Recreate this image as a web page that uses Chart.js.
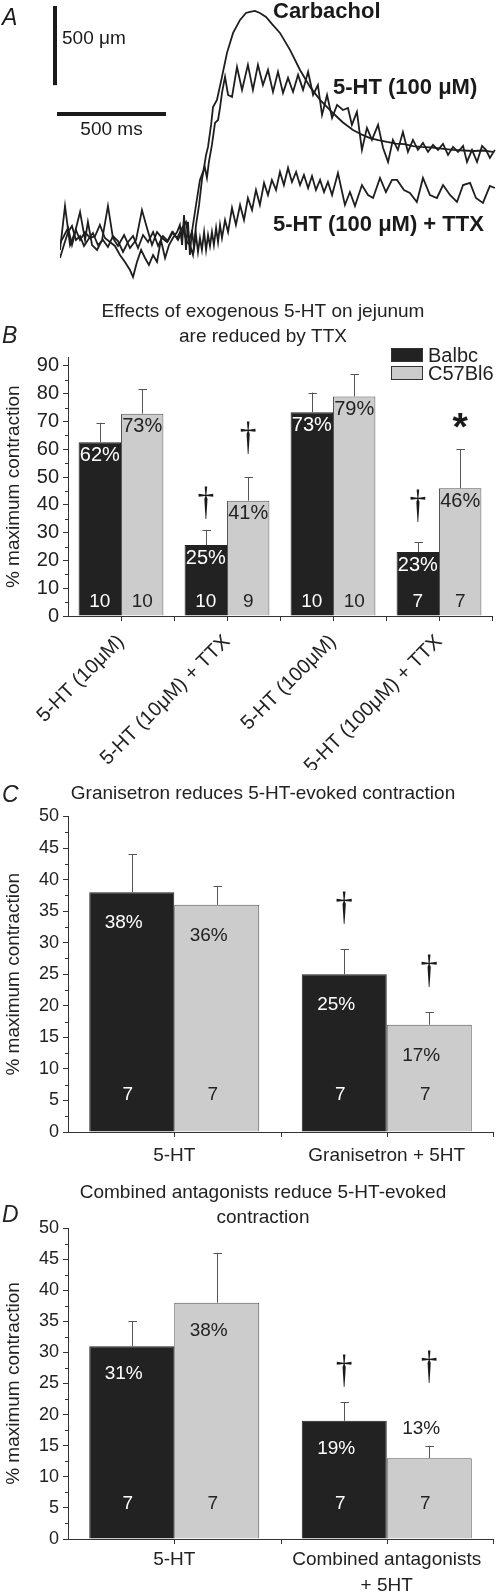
<!DOCTYPE html>
<html><head><meta charset="utf-8">
<script src="https://cdn.jsdelivr.net/npm/chart.js@4.4.1/dist/chart.umd.min.js"></script>
<style>
html,body{margin:0;padding:0;background:#fff;}
body{width:497px;height:1596px;position:relative;overflow:hidden;}
canvas{position:absolute;left:0;}
</style></head><body>
<canvas id="cA" width="497" height="285" style="top:0px"></canvas>
<canvas id="cB" width="497" height="480" style="top:290px"></canvas>
<canvas id="cC" width="497" height="400" style="top:770px"></canvas>
<canvas id="cD" width="497" height="426" style="top:1170px"></canvas>
<script>
// ---------------- Panel A: traces (time in ms, displacement in µm) ----------------
const carbTime = [0,18,37,55,73,92,110,128,151,174,197,220,243,266,289,312,335,358,381,404,427,450,472,495,518,541,564,583,596,610,624,638,651,661,670,679,693,702,720,743,766,794,826,853,872,894,917,945,972,1009,1055,1101,1147,1193,1252,1298,1344,1385,1422,1460,1500,1540,1580,1620,1651,1700,1750,1803,1850,1900,1940,1986];
const carbVal  = [139,221,303,341,253,278,215,253,297,221,253,209,278,246,177,240,278,202,284,240,303,215,278,246,303,253,316,240,221,158,348,474,632,714,790,841,980,1093,1138,1283,1435,1561,1643,1687,1694,1700,1687,1662,1618,1561,1454,1327,1220,1138,1055,995,948,918,897,884,872,862,858,846,841,838,830,822,818,815,818,809];
const htTime = [0,23,46,69,92,115,128,147,170,193,220,243,266,294,321,349,376,399,422,445,468,491,514,537,560,578,592,605,624,642,656,665,674,683,697,711,725,734,743,757,771,789,812,835,862,885,908,931,954,977,1000,1023,1046,1069,1092,1115,1138,1161,1183,1202,1225,1248,1271,1298,1321,1339,1362,1385,1408,1431,1459,1482,1505,1527,1550,1573,1596,1619,1642,1665,1688,1711,1734,1757,1780,1803,1826,1849,1867,1890,1913,1936,1954,1972,1995];
const htVal  = [190,468,221,303,430,253,367,221,190,253,468,265,215,284,202,253,442,329,221,303,265,240,303,265,329,367,253,303,474,632,683,708,645,746,853,992,1011,1087,1182,1283,1169,1157,1346,1201,1359,1201,1359,1232,1327,1188,1315,1182,1277,1188,1296,1201,1315,1169,1232,1043,1169,1024,1106,1074,1087,980,1062,822,961,885,980,834,746,885,822,935,809,885,822,866,809,853,822,860,790,841,809,847,746,822,746,847,822,771,822];
const ttxTime = [0,18,37,55,73,92,115,138,161,183,206,229,252,275,298,321,335,353,372,390,408,427,445,463,482,500,518,537,550,560,569,578,587,596,605,615,624,633,642,651,661,670,679,688,697,706,716,725,734,743,757,771,789,807,826,844,862,881,899,917,936,954,972,991,1009,1027,1046,1064,1083,1101,1119,1138,1156,1174,1193,1211,1229,1248,1275,1307,1330,1353,1385,1413,1436,1468,1495,1523,1546,1578,1605,1637,1665,1697,1729,1757,1789,1821,1849,1881,1908,1940,1972,1995];
const ttxVal  = [234,278,329,221,316,253,303,265,278,348,265,240,215,158,114,63,19,114,190,139,95,158,114,253,139,221,265,303,348,221,411,190,367,158,316,202,284,177,265,190,303,190,284,215,303,221,329,240,348,265,379,303,455,348,474,379,518,442,569,474,613,537,632,569,683,600,708,619,683,600,664,581,657,569,632,556,619,537,676,474,556,468,600,537,518,645,556,632,632,569,550,493,645,537,518,600,537,493,600,613,518,487,594,581];
const traceNames = ['Carbachol','5-HT (100 μM)','5-HT (100 μM) + TTX'];
const scaleBarUm = 500, scaleBarMs = 500;

// ---------------- Panels B-D: bar data ----------------
const seriesNames = ['Balbc','C57Bl6'];
const catsB = ['5-HT (10μM)','5-HT (10μM) + TTX','5-HT (100μM)','5-HT (100μM) + TTX'];
const balbcB = [62.5,25.5,73.3,23];
const balbcSemB = [7,5.5,7.1,3.6];
const c57B = [72.8,41.5,79,46];
const c57SemB = [8.8,8.5,8,14];
const balbcPctB = ['62%','25%','73%','23%'];
const c57PctB = ['73%','41%','79%','46%'];
const balbcNB = [10,10,10,7];
const c57NB = [10,9,10,7];
const marksB = [['',''],['†','†'],['',''],['†','*']];

const catsC = ['5-HT','Granisetron + 5HT'];
const balbcC = [38,25];
const balbcSemC = [6,4];
const c57C = [36,17];
const c57SemC = [3,2];
const balbcPctC = ['38%','25%'];
const c57PctC = ['36%','17%'];
const balbcNC = [7,7];
const c57NC = [7,7];
const marksC = [['',''],['†','†']];

const catsD = ['5-HT',['Combined antagonists','+ 5HT']];
const balbcD = [31,19];
const balbcSemD = [4,3];
const c57D = [38,13];
const c57SemD = [8,2];
const balbcPctD = ['31%','19%'];
const c57PctD = ['38%','13%'];
const balbcND = [7,7];
const c57ND = [7,7];
const marksD = [['',''],['†','†']];

const F = '"Liberation Sans", Arial, Helvetica, sans-serif';
const FS = '"Liberation Serif", "DejaVu Serif", serif';
Chart.defaults.font.family = F;
Chart.defaults.color = '#222';

// ---------------- Panel A ----------------
function pts(t, v){ return t.map((x,i)=>({x:x, y:v[i]})); }
const traceStyle = {borderColor:'#1e1e1e', borderWidth:1.8, pointRadius:0, tension:0, fill:false};
const panelAPlugin = {
  id:'panelA',
  afterDraw(chart){
    const {ctx, scales:{x, y}, chartArea:ca} = chart;
    ctx.save();
    const lenV = y.getPixelForValue(0) - y.getPixelForValue(scaleBarUm);
    const lenH = x.getPixelForValue(scaleBarMs) - x.getPixelForValue(0);
    ctx.fillStyle = '#1a1a1a';
    ctx.fillRect(ca.left - 7, 6, 4, lenV);
    ctx.fillRect(ca.left - 3, 112, lenH, 4);
    ctx.font = '19px ' + F; ctx.textBaseline = 'alphabetic';
    ctx.textAlign = 'left'; ctx.fillText(scaleBarUm + ' μm', 62, 44);
    ctx.textAlign = 'center'; ctx.fillText(scaleBarMs + ' ms', ca.left - 3 + lenH/2, 135);
    ctx.font = 'bold 22px ' + F; ctx.textAlign = 'left';
    ctx.fillText(traceNames[0], 273, 18);
    ctx.fillText(traceNames[1], 333, 94);
    ctx.fillText(traceNames[2], 273, 231);
    ctx.font = 'italic 23px ' + F;
    ctx.fillText('A', 2, 25);
    ctx.restore();
  }
};
new Chart(document.getElementById('cA'), {
  type:'line',
  data:{datasets:[
    Object.assign({label:traceNames[0], data:pts(carbTime, carbVal)}, traceStyle),
    Object.assign({label:traceNames[1], data:pts(htTime, htVal)}, traceStyle),
    Object.assign({label:traceNames[2], data:pts(ttxTime, ttxVal)}, traceStyle)
  ]},
  options:{
    responsive:false, animation:false,
    layout:{padding:{left:60, right:1, top:3, bottom:5}},
    scales:{ x:{type:'linear', min:0, max:2000, display:false}, y:{min:0, max:1750, display:false} },
    plugins:{legend:{display:false}, tooltip:{enabled:false}}
  },
  plugins:[panelAPlugin]
});

// ---------------- Bar panels ----------------
function line(ctx, x1, y1, x2, y2){ ctx.beginPath(); ctx.moveTo(x1,y1); ctx.lineTo(x2,y2); ctx.stroke(); }
function drawGlyph(ctx, ch, cx, bottom, h, weight, family, sx){
  ctx.font = weight + ' 100px ' + family;
  const m = ctx.measureText(ch);
  const gh = (m.actualBoundingBoxAscent + m.actualBoundingBoxDescent) || 70;
  const fs = 100 * h / gh;
  ctx.font = weight + ' ' + fs.toFixed(1) + 'px ' + family;
  const m2 = ctx.measureText(ch);
  ctx.save();
  ctx.translate(cx, 0); ctx.scale(sx, 1);
  ctx.textAlign = 'center'; ctx.textBaseline = 'alphabetic';
  ctx.fillText(ch, 0, bottom - (m2.actualBoundingBoxDescent || 0));
  ctx.restore();
}
const annotPlugin = {
  id:'annot',
  afterDraw(chart, args, o){
    const ctx = chart.ctx, ys = chart.scales.y, xs = chart.scales.x, ca = chart.chartArea;
    ctx.save();
    ctx.strokeStyle = '#333'; ctx.lineWidth = 1;
    // minor y ticks
    for (let v = o.step/2; v < ys.max; v += o.step){
      const p = Math.round(ys.getPixelForValue(v)) + 0.5; line(ctx, ca.left - 3, p, ca.left, p);
    }
    // x ticks: centers and category boundaries
    const n = chart.data.labels.length, cw = (ca.right - ca.left)/n;
    for (let i = 0; i < n; i++){
      const c = xs.getPixelForValue(i);
      [c, c + cw/2].forEach(px => { px = Math.round(px) + 0.5; line(ctx, px, ca.bottom, px, ca.bottom + 5); });
    }
    // bars annotations
    chart.data.datasets.forEach((ds, di) => {
      const meta = chart.getDatasetMeta(di);
      meta.data.forEach((el, j) => {
        const v = ds.data[j], e = o.sem[di][j];
        const top = el.y, x = el.x;
        const et = ys.getPixelForValue(v + e);
        ctx.strokeStyle = '#555'; ctx.lineWidth = 1;
        const xr = Math.round(x) + 0.5;
        line(ctx, xr, top, xr, et);
        line(ctx, xr - 4, Math.round(et) + 0.5, xr + 4.5, Math.round(et) + 0.5);
        // percentage label
        ctx.fillStyle = (di === 0) ? '#ffffff' : '#222222';
        ctx.font = o.pctFont + 'px ' + F; ctx.textAlign = 'center'; ctx.textBaseline = 'middle';
        const above = o.above && o.above[j] && o.above[j][di];
        if (above){ ctx.fillStyle = '#222222'; ctx.fillText(o.pct[di][j], x + o.pctShift, et - o.aboveGap); }
        else ctx.fillText(o.pct[di][j], x + o.pctShift, top + o.pctOffset);
        // n label
        ctx.fillStyle = (di === 0) ? '#ffffff' : '#222222';
        ctx.font = o.nFont + 'px ' + F;
        ctx.fillText(String(o.n[di][j]), x + o.nShift, ca.bottom - o.nOffset);
        // significance markers
        const mk = o.marks[j][di];
        if (mk){
          ctx.fillStyle = '#1a1a1a';
          const gap = o.markGap[j][di];
          if (mk === '*') drawGlyph(ctx, '*', x, et - gap, 15, 'bold', F, 1);
          else drawGlyph(ctx, '†', x, et - gap, o.daggerH, 'normal', FS, 0.85);
        }
      });
    });
    // titles and panel letter
    ctx.fillStyle = '#222'; ctx.textAlign = 'center'; ctx.textBaseline = 'middle';
    ctx.font = o.titleFont + 'px ' + F;
    o.title.forEach((t, i) => ctx.fillText(t, 263, o.titleY[i]));
    ctx.font = 'italic 23px ' + F; ctx.textAlign = 'left'; ctx.textBaseline = 'alphabetic';
    ctx.fillText(o.letter, 2, o.letterY);
    // legend
    if (o.legend){
      ctx.font = '20px ' + F; ctx.textBaseline = 'middle'; ctx.textAlign = 'left';
      chart.data.datasets.forEach((ds, di) => {
        const by = 58 + di*18;
        ctx.fillStyle = ds.backgroundColor; ctx.fillRect(391, by, 32, 14);
        ctx.strokeStyle = '#333'; ctx.lineWidth = 1; ctx.strokeRect(391.5, by + 0.5, 31, 13);
        ctx.fillStyle = '#222'; ctx.fillText(ds.label, 428, by + 8);
      });
    }
    ctx.restore();
  }
};

function barChart(id, c){
  return new Chart(document.getElementById(id), {
    type:'bar',
    data:{labels:c.labels, datasets:[
      {label:seriesNames[0], data:c.balbc, backgroundColor:'#222222', borderColor:'#222222', borderWidth:1},
      {label:seriesNames[1], data:c.c57, backgroundColor:'#cccccc', borderColor:'#555555', borderWidth:1}
    ]},
    options:{
      responsive:false, animation:false,
      layout:{padding:{left:0, right:c.padRight, top:c.padTop, bottom:0}},
      datasets:{bar:{barPercentage:1, categoryPercentage:0.8}},
      plugins:{legend:{display:false}, tooltip:{enabled:false}, title:{display:false}, annot:c.annot},
      scales:{
        x:{
          grid:{display:true, drawOnChartArea:false, color:'rgba(0,0,0,0)', tickLength:5},
          border:{display:true, color:'#333', width:1},
          ticks:{color:'#222', font:{size:c.xFont, lineHeight:1.35}, maxRotation:c.rot, minRotation:c.rot, padding:c.xPad, autoSkip:false},
          afterFit(s){ s.height = c.xHeight; s.paddingLeft = 0; s.paddingRight = 0; }
        },
        y:{
          min:0, max:c.yMax,
          ticks:{stepSize:c.annot.step, includeBounds:false, color:'#222', font:{size:c.yFont}, padding:4},
          grid:{drawOnChartArea:false, color:'#333', tickLength:5},
          border:{display:true, color:'#333', width:1},
          title:{display:true, text:'% maximum contraction', color:'#222', font:{size:19}, padding:{top:2, bottom:0}},
          afterFit(s){ s.width = 68; }
        }
      }
    },
    plugins:[annotPlugin]
  });
}

barChart('cB', {
  labels:catsB, balbc:balbcB, c57:c57B, padRight:5, padTop:67.5, xHeight:154, yMax:93, xFont:20, yFont:20, rot:45, xPad:8,
  annot:{step:10, sem:[balbcSemB, c57SemB], pct:[balbcPctB, c57PctB], n:[balbcNB, c57NB], marks:marksB,
    markGap:[[0,0],[0,13],[0,0],[10,10]], daggerH:32, pctFont:20, nFont:19, pctOffset:13, pctShift:0, nShift:0, nOffset:14,
    title:['Effects of exogenous 5-HT on jejunum','are reduced by TTX'], titleY:[22,47], titleFont:19,
    letter:'B', letterY:53, legend:true}
});
barChart('cC', {
  labels:catsC, balbc:balbcC, c57:c57C, padRight:4, padTop:46.5, xHeight:38, yMax:50, xFont:19, yFont:18, rot:0, xPad:6,
  annot:{step:5, sem:[balbcSemC, c57SemC], pct:[balbcPctC, c57PctC], n:[balbcNC, c57NC], marks:marksC,
    markGap:[[0,0],[14,14]], daggerH:33, pctFont:19, nFont:19, pctOffset:31, pctShift:-8, nShift:-4, nOffset:37,
    title:['Granisetron reduces 5-HT-evoked contraction'], titleY:[24], titleFont:19,
    letter:'C', letterY:32, legend:false}
});
barChart('cD', {
  labels:catsD, balbc:balbcD, c57:c57D, padRight:4, padTop:58, xHeight:57, yMax:50, xFont:19, yFont:18, rot:0, xPad:3,
  annot:{step:5, sem:[balbcSemD, c57SemD], pct:[balbcPctD, c57PctD], n:[balbcND, c57ND], marks:marksD,
    markGap:[[0,0],[5,52]], daggerH:32, pctFont:19, nFont:19, pctOffset:28, pctShift:-8, nShift:-4, nOffset:35,
    above:[[false,false],[false,true]], aboveGap:17,
    title:['Combined antagonists reduce 5-HT-evoked','contraction'], titleY:[23,48], titleFont:19,
    letter:'D', letterY:52, legend:false}
});
</script>
</body></html>
